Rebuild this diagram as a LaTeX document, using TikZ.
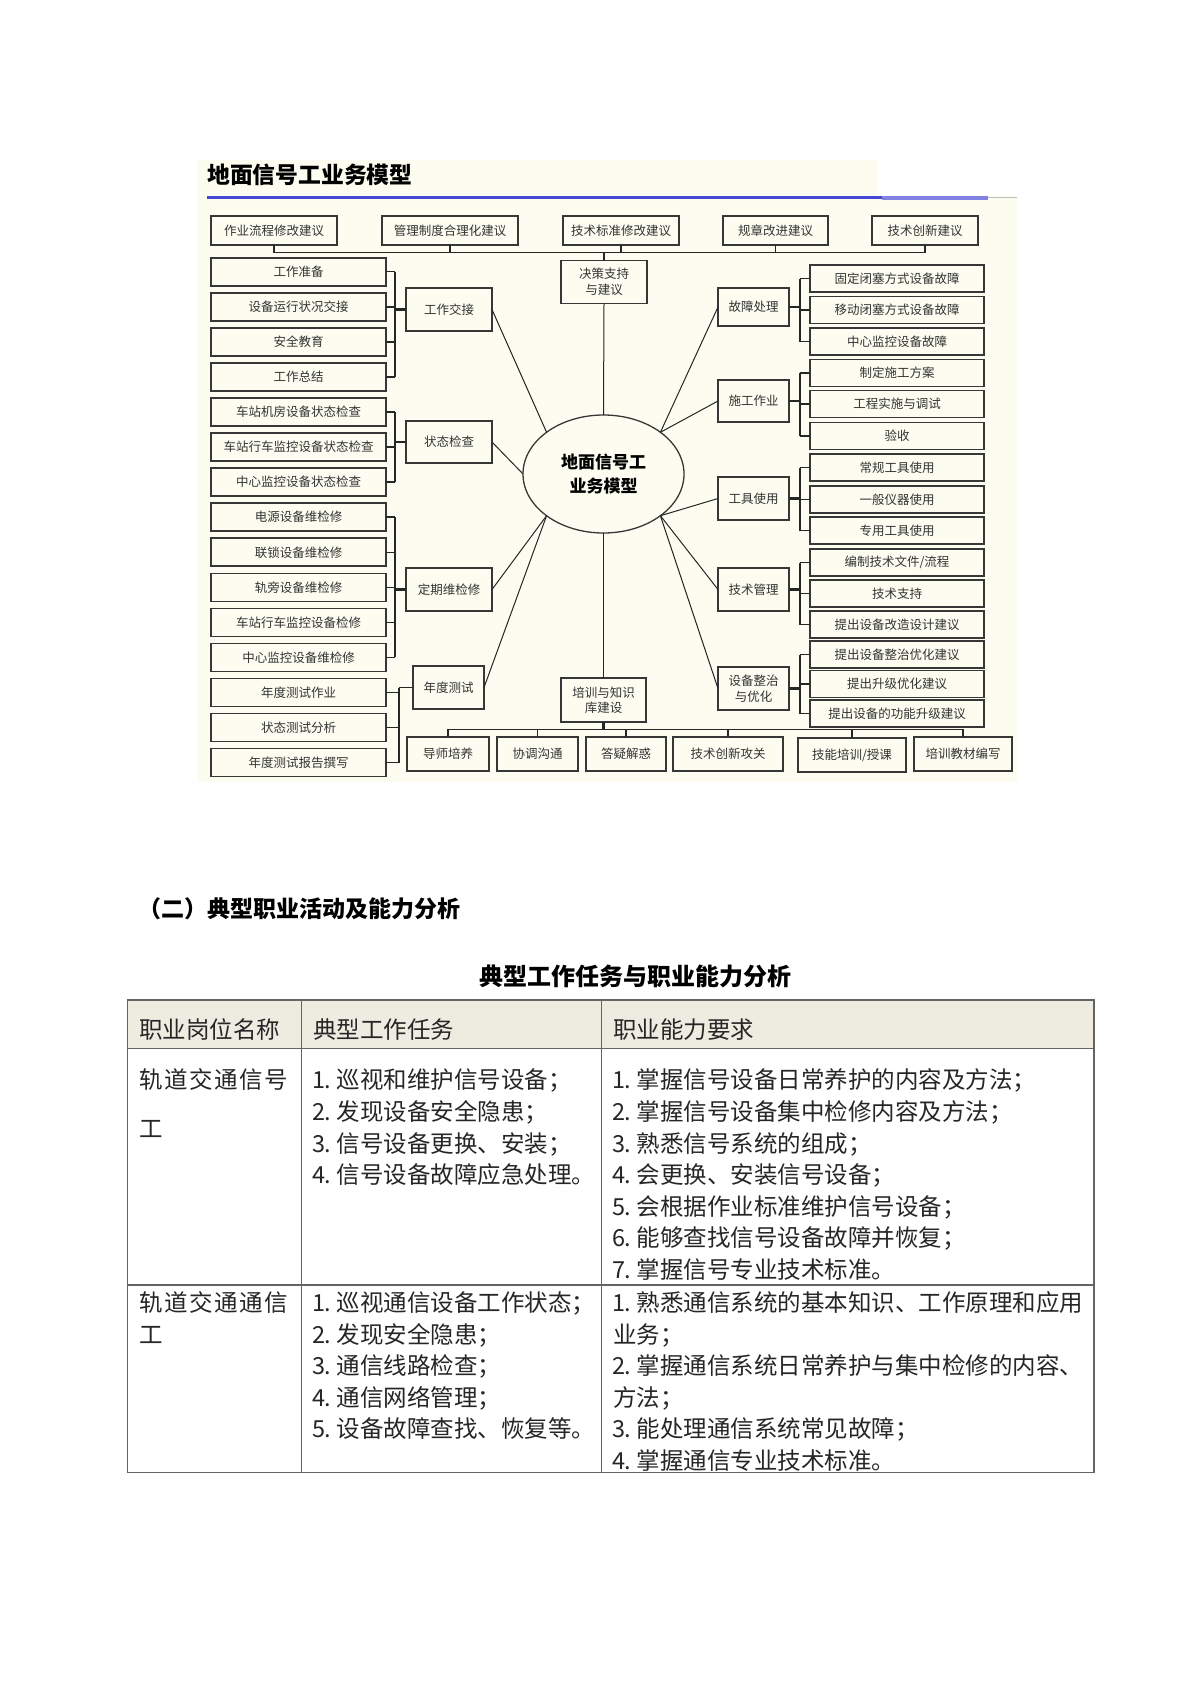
\documentclass[tikz,border=0pt]{standalone}
\usepackage{fontspec}
\setmainfont{Noto Sans CJK SC}
\usetikzlibrary{calc,shapes.geometric}
\definecolor{cream}{RGB}{252,252,240}
\definecolor{hdr}{RGB}{238,236,225}
\definecolor{blueA}{RGB}{70,70,215}
\definecolor{blueB}{RGB}{130,130,228}
\definecolor{bordc}{RGB}{55,55,55}
\definecolor{tblc}{RGB}{100,100,100}
\newcommand{\nm}[1]{\makebox[0.5em][c]{#1}\makebox[0.5em][l]{.}}
\begin{document}
\begin{tikzpicture}[x=1pt,y=-1pt,
  bx/.style={draw=bordc, line width=1.6pt, fill=cream, inner sep=0pt, outer sep=0pt, align=center, font=\fontsize{12.5}{15.5}\selectfont, text=black!80},
  lcb/.style={bx, minimum width=175pt, minimum height=28pt},
  rcb/.style={bx, minimum width=174pt, minimum height=27pt},
  mlb/.style={bx, minimum width=86pt, minimum height=43pt},
  mrb/.style={bx, minimum width=71pt, minimum height=43pt},
  topb/.style={bx, minimum height=29pt},
  botb/.style={bx, minimum height=34pt},
  spoke/.style={line width=1pt, draw=black!85},
  brk/.style={line width=1.5pt, draw=black!85},
  junc/.style={line width=2.6pt, draw=black!85},
  tl/.style={anchor=west, inner sep=0pt, font=\fontsize{23.5}{28}\selectfont, text=black!85, text height=20.7pt, text depth=2.8pt},
  tbl/.style={line width=1.3pt, draw=tblc},
]
\useasboundingbox (0,0) rectangle (1190,1683);
\fill[white] (0,0) rectangle (1190,1683);

% ---------- diagram background ----------
\fill[cream] (197,160) rectangle (877,200);
\fill[cream] (197,196) rectangle (1018,782);
\node[anchor=west, inner sep=0pt, font=\bfseries\fontsize{22.8}{26}\selectfont] (dtitle) at (207,175) {地面信号工业务模型};
\draw[blueA, line width=3.5pt] (207,197.7) -- (882,197.7);
\draw[blueB, line width=3.5pt] (882,198.2) -- (988,198.2);
\draw[black!25, line width=0.8pt] (988,197) -- (1017,197);

% ---------- top row ----------
\node[topb, minimum width=126pt] (s1) at (274,230.5) {作业流程修改建议};
\node[topb, minimum width=136pt] (s2) at (450,230.5) {管理制度合理化建议};
\node[topb, minimum width=116pt] (s3) at (621,230.5) {技术标准修改建议};
\node[topb, minimum width=105pt] (s4) at (775.5,230.5) {规章改进建议};
\node[topb, minimum width=106pt] (s5) at (925,230.5) {技术创新建议};
\node[mlb] (jc) at (604,282) {决策支持\\与建议};
\coordinate (busT) at (604,252.7);
\draw[brk] (s1.south) -- (s1.south |- busT) -- (s5.south |- busT) -- (s5.south);
\foreach \n in {s2,s3,s4} \draw[brk] (\n.south) -- (\n.south |- busT);
\draw[junc] (jc.north) -- (busT);

% ---------- centre ----------
\node[ellipse, draw=bordc, line width=1.3pt, fill=cream, minimum width=161pt, minimum height=118pt, inner sep=0pt, outer sep=0pt, align=center, font=\bfseries\fontsize{17}{23.4}\selectfont] (ell) at (603.5,474) {地面信号工\\业务模型};
\draw[spoke] (jc.south) -- (ell.north);

% ---------- left column ----------
\foreach \t [count=\i] in {工作准备,设备运行状况交接,安全教育,工作总结,车站机房设备状态检查,车站行车监控设备状态检查,中心监控设备状态检查,电源设备维检修,联锁设备维检修,轨旁设备维检修,车站行车监控设备检修,中心监控设备维检修,年度测试作业,状态测试分析,年度测试报告撰写}
  \node[lcb] (l\i) at (298.5,{271.7+35.07*(\i-1)}) {\t};

\node[mlb] (m1) at (449,309.5) {工作交接};
\node[mlb, minimum height=42pt] (m2) at (449,442) {状态检查};
\node[mlb] (m3) at (449,589.5) {定期维检修};
\node[mrb] (m4) at (448.5,687.5) {年度测试};

\coordinate (ba) at (395,309.5);
\coordinate (bb) at (395,442);
\coordinate (bc) at (395,589.5);
\coordinate (bd) at (399,687.5);
\foreach \i in {1,...,4} \draw[brk] (l\i.east) -- (l\i.east -| ba);
\draw[brk] (l1.east -| ba) -- (l4.east -| ba);
\draw[junc] (ba) -- (m1.west);
\foreach \i in {5,6,7} \draw[brk] (l\i.east) -- (l\i.east -| bb);
\draw[brk] (l5.east -| bb) -- (l7.east -| bb);
\draw[junc] (bb) -- (m2.west);
\foreach \i in {8,...,12} \draw[brk] (l\i.east) -- (l\i.east -| bc);
\draw[brk] (l8.east -| bc) -- (l12.east -| bc);
\draw[junc] (bc) -- (m3.west);
\foreach \i in {13,14,15} \draw[brk] (l\i.east) -- (l\i.east -| bd);
\draw[brk] (bd) -- (l15.east -| bd);
\draw[brk] (bd) -- (m4.west);

% ---------- right column ----------
\foreach \yy/\t [count=\i] in {278.5/固定闭塞方式设备故障,310/移动闭塞方式设备故障,341.5/中心监控设备故障,373/制定施工方案,404/工程实施与调试,436/验收,467.5/常规工具使用,499.5/一般仪器使用,530.5/专用工具使用,562.5/{编制技术文件/流程},593.5/技术支持,624.5/提出设备改造设计建议,654.5/提出设备整治优化建议,684/提出升级优化建议,713.5/提出设备的功能升级建议}
  \node[rcb] (r\i) at (897,\yy) {\t};

\node[mrb, minimum height=38pt] (n1) at (753.5,307) {故障处理};
\node[mrb, minimum height=42pt] (n2) at (753.5,401) {施工作业};
\node[mrb] (n3) at (753.5,498.5) {工具使用};
\node[mrb] (n4) at (753.5,589.5) {技术管理};
\node[mrb] (n5) at (753.5,688.5) {设备整治\\与优化};

\coordinate (rb) at (800,0);
\foreach \g/\a/\b in {1/1/3,2/4/6,3/7/9,4/10/12,5/13/15}{
  \foreach \i in {\a,...,\b} \draw[brk] (r\i.west) -- (r\i.west -| rb);
  \draw[brk] (r\a.west -| rb) -- (r\b.west -| rb);
  \draw[junc] (n\g.east) -- (n\g.east -| rb);
}

% ---------- spokes ----------
\draw[spoke] (m1.east) -- (ell.north west);
\draw[spoke] (m2.east) -- (ell.west);
\draw[spoke] (m3.east) -- (ell.south west);
\draw[spoke] (m4.east) -- (ell.south west);
\draw[spoke] (n1.west) -- (ell.north east);
\draw[spoke] (n2.west) -- (ell.north east);
\draw[spoke] (n3.west) -- (ell.south east);
\draw[spoke] (n4.west) -- (ell.south east);
\draw[spoke] (n5.west) -- (ell.south east);

% ---------- bottom ----------
\node[bx, minimum width=85pt, minimum height=44pt] (kb) at (603.5,700) {培训与知识\\库建设};
\draw[spoke] (ell.south) -- (kb.north);
\node[botb, minimum width=82pt] (b1) at (448,754) {导师培养};
\node[botb, minimum width=81pt] (b2) at (537.5,754) {协调沟通};
\node[botb, minimum width=80pt] (b3) at (626,754) {答疑解惑};
\node[botb, minimum width=110pt] (b4) at (728,754) {技术创新攻关};
\node[botb, minimum width=108pt] (b5) at (852,755) {技能培训/授课};
\node[botb, minimum width=98pt] (b6) at (963,754) {培训教材编写};
\coordinate (busB) at (603.5,729.3);
\draw[brk] (b1.north) -- (b1.north |- busB) -- (b6.north |- busB) -- (b6.north);
\foreach \n in {b2,b3,b4,b5} \draw[brk] (\n.north) -- (\n.north |- busB);
\draw[junc] (kb.south) -- (busB);

% ---------- section heading ----------
\node[anchor=west, inner sep=0pt, font=\bfseries\fontsize{23}{26}\selectfont, text height=20.2pt, text depth=2.8pt] (h2) at (138,909) {（二）典型职业活动及能力分析};
\node[inner sep=0pt, font=\bfseries\fontsize{24}{28}\selectfont, text height=21.1pt, text depth=2.9pt] (tt) at (635.5,976) {典型工作任务与职业能力分析};

% ---------- table ----------
\fill[hdr] (127.3,1000) rectangle (1094,1048.3);
\draw[tbl] (127.3,1000) rectangle (1094,1472.7);
\draw[tbl] (127.3,1048.3) -- (1094,1048.3);
\draw[tbl] (127.3,1285) -- (1094,1285);
\draw[tbl] (301.7,1000) -- (301.7,1472.7);
\draw[tbl] (601.7,1000) -- (601.7,1472.7);

\node[tl] (hA) at (139,1029.5) {职业岗位名称};
\node[tl] (hB) at (313,1029.5) {典型工作任务};
\node[tl] (hC) at (613,1029.5) {职业能力要求};

\node[tl] (a1) at (139,1079.3) {\makebox[149pt][s]{轨\hfill 道\hfill 交\hfill 通\hfill 信\hfill 号}};
\node[tl] (a2) at (139,1128.3) {工};
\foreach \t [count=\i] in {\nm1巡视和维护信号设备；,\nm2发现设备安全隐患；,\nm3信号设备更换、安装；,\nm4信号设备故障应急处理。}
  \node[tl] (bA\i) at (313,{1080+31.65*(\i-1)}) {\t};
\foreach \t [count=\i] in {\nm1掌握信号设备日常养护的内容及方法；,\nm2掌握信号设备集中检修内容及方法；,\nm3熟悉信号系统的组成；,\nm4会更换、安装信号设备；,\nm5会根据作业标准维护信号设备；,\nm6能够查找信号设备故障并恢复；,\nm7掌握信号专业技术标准。}
  \node[tl] (cA\i) at (613,{1080+31.6*(\i-1)}) {\t};

\node[tl] (a3) at (139,1302.7) {\makebox[149pt][s]{轨\hfill 道\hfill 交\hfill 通\hfill 通\hfill 信}};
\node[tl] (a4) at (139,1334.3) {工};
\foreach \t [count=\i] in {\nm1巡视通信设备工作状态；,\nm2发现安全隐患；,\nm3通信线路检查；,\nm4通信网络管理；,\nm5设备故障查找、恢复等。}
  \node[tl] (bB\i) at (313,{1302.7+31.5*(\i-1)}) {\t};
\foreach \t [count=\i] in {\nm1熟悉通信系统的基本知识、工作原理和应用,业务；,\nm2掌握通信系统日常养护与集中检修的内容、,方法；,\nm3能处理通信系统常见故障；,\nm4掌握通信专业技术标准。}
  \node[tl] (cB\i) at (613,{1302.7+31.5*(\i-1)}) {\t};
\end{tikzpicture}
\end{document}
